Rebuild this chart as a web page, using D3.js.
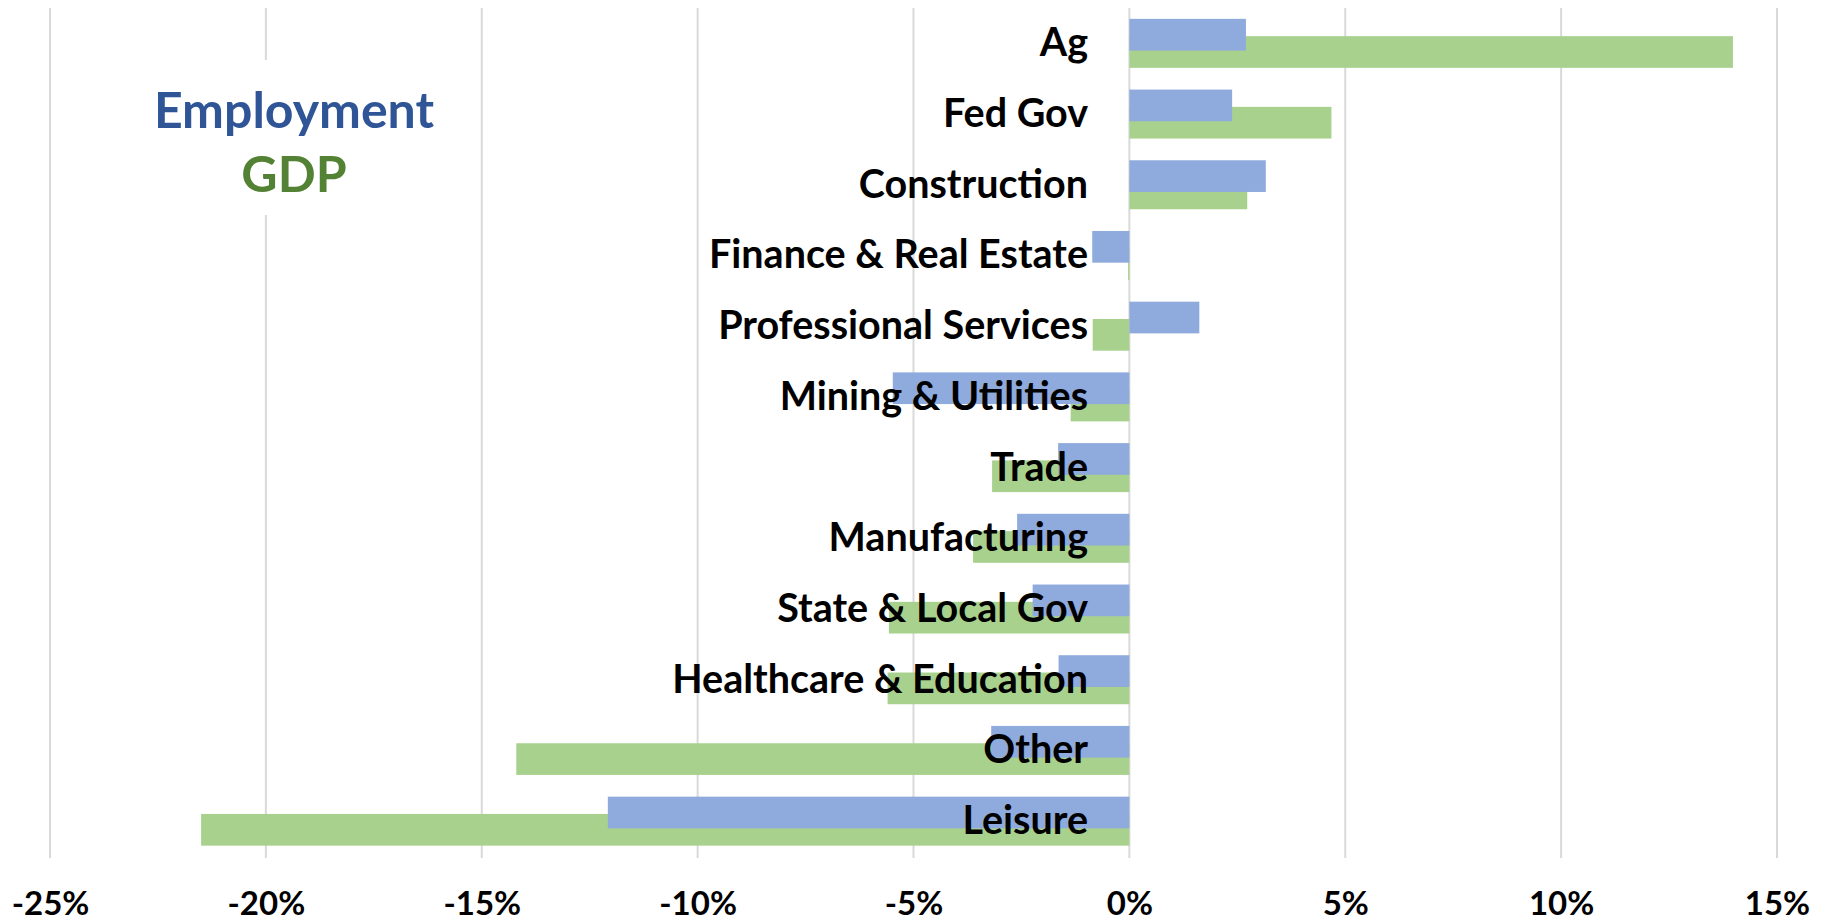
<!DOCTYPE html>
<meta charset="utf-8">
<style>
body { margin: 0; background: #fff; }
.chart text { font-family: Lato, "Liberation Sans", sans-serif; font-weight: bold; }
.grid line { stroke: #d9d9d9; stroke-width: 2; }
.cat { fill: #000; font-size: 39.5px; text-anchor: end; }
.tick-label { fill: #000; font-size: 33px; text-anchor: middle; }
</style>

<svg class="chart"></svg>

<script src="https://cdn.jsdelivr.net/npm/d3@7"></script>
<script>

var categories = ["Ag", "Fed Gov", "Construction", "Finance & Real Estate", "Professional Services",
  "Mining & Utilities", "Trade", "Manufacturing", "State & Local Gov", "Healthcare & Education",
  "Other", "Leisure"];
var employment = [2.7, 2.38, 3.16, -0.86, 1.62, -5.48, -1.65, -2.6, -2.24, -1.64, -3.2, -12.08];
var gdp = [13.98, 4.68, 2.73, -0.03, -0.85, -1.36, -3.18, -3.62, -5.57, -5.6, -14.2, -21.5];
var ticks = [-25, -20, -15, -10, -5, 0, 5, 10, 15];

var width = 1825, height = 921;

var svg = d3.select(".chart")
  .attr("width", width)
  .attr("height", height);

var x = d3.scaleLinear()
  .domain([-25, 15])
  .range([50, 1777]);

var y = d3.scaleBand()
  .domain(categories)
  .range([8, 856.5]);

var step = y.step(),
    barH = 31.7,
    shift = 17.3,
    pad = (step - barH - shift) / 2;

// gridlines
svg.append("g")
  .attr("class", "grid")
  .selectAll("line")
  .data(ticks)
  .enter().append("line")
  .attr("x1", function(d) { return x(d); })
  .attr("x2", function(d) { return x(d); })
  .attr("y1", 8)
  .attr("y2", 858);

// legend box covers the gridline
svg.append("rect")
  .attr("x", 150).attr("y", 60)
  .attr("width", 290).attr("height", 155)
  .attr("fill", "#fff");

svg.append("text")
  .attr("x", 294).attr("y", 128)
  .attr("text-anchor", "middle")
  .style("font-size", "50px")
  .attr("fill", "#2f5597")
  .text("Employment");

svg.append("text")
  .attr("x", 294).attr("y", 192)
  .attr("text-anchor", "middle")
  .style("font-size", "50px")
  .attr("fill", "#548235")
  .text("GDP");

// GDP bars (behind)
svg.append("g")
  .selectAll("rect")
  .data(gdp)
  .enter().append("rect")
  .attr("x", function(d) { return x(Math.min(0, d)); })
  .attr("y", function(d, i) { return y(categories[i]) + pad + shift; })
  .attr("width", function(d) { return Math.abs(x(d) - x(0)); })
  .attr("height", barH)
  .attr("fill", "#a9d18e");

// Employment bars
svg.append("g")
  .selectAll("rect")
  .data(employment)
  .enter().append("rect")
  .attr("x", function(d) { return x(Math.min(0, d)); })
  .attr("y", function(d, i) { return y(categories[i]) + pad; })
  .attr("width", function(d) { return Math.abs(x(d) - x(0)); })
  .attr("height", barH)
  .attr("fill", "#8faadc");

// category labels
svg.append("g")
  .selectAll("text")
  .data(categories)
  .enter().append("text")
  .attr("class", "cat")
  .attr("x", 1088)
  .attr("y", function(d) { return y(d) + step / 2 + 13; })
  .text(function(d) { return d; });

// x axis labels
var xAxis = d3.axisBottom(x)
  .tickValues(ticks)
  .tickSize(0)
  .tickFormat(function(d) { return d + "%"; });

var ax = svg.append("g")
  .attr("transform", "translate(0,890)")
  .call(xAxis);
ax.select(".domain").remove();
ax.selectAll("text")
  .attr("class", "tick-label")
  .attr("fill", "#000")
  .attr("dy", 0)
  .attr("y", 25);

</script>
